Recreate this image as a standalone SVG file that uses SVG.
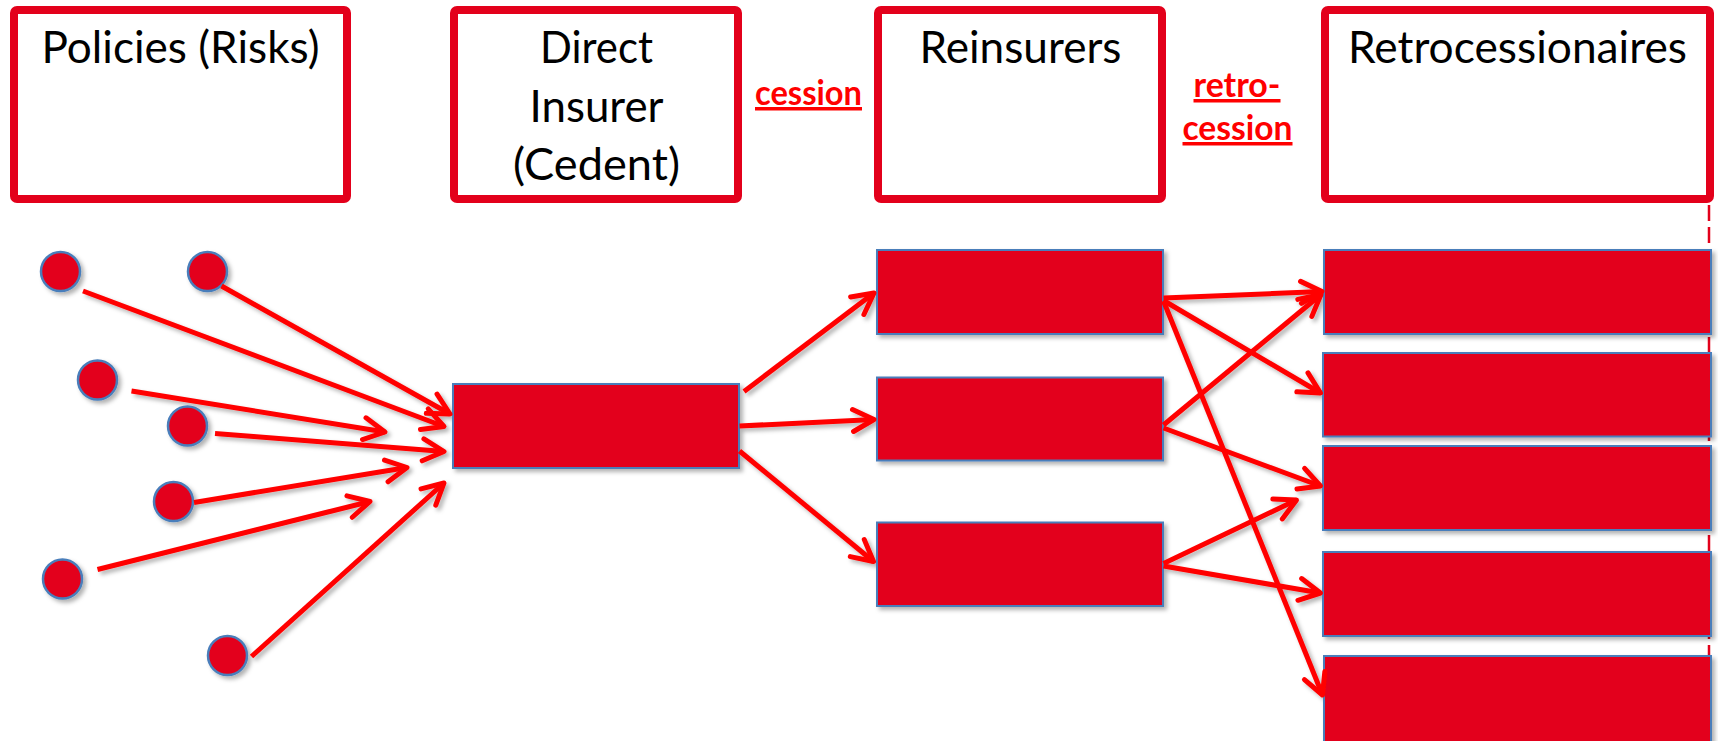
<svg xmlns="http://www.w3.org/2000/svg" width="1718" height="741" viewBox="0 0 1718 741">
<style>
.hdr{fill:#ffffff;stroke:#E3001B;stroke-width:8}
.ttl{font-family:Lato,"Liberation Sans",sans-serif;font-size:44px;fill:#000000;text-anchor:middle}
.lbl{font-family:Lato,"Liberation Sans",sans-serif;font-size:35px;font-weight:bold;fill:#FF0000;text-anchor:middle;text-decoration:underline}
.blk{fill:#E3001B;stroke:#4A7EBB;stroke-width:2}
.dot{fill:#E3001B;stroke:#4A7EBB;stroke-width:2.5}
.con line{stroke:#FF0000;stroke-width:5;fill:none;marker-end:url(#arr)}
</style>
<defs>
<filter id="sh" filterUnits="userSpaceOnUse" x="0" y="0" width="1718" height="741">
<feDropShadow dx="3" dy="3" stdDeviation="2" flood-color="#000000" flood-opacity="0.3"/>
</filter>
<marker id="arr" markerUnits="userSpaceOnUse" viewBox="-28 -16 34 32" markerWidth="34" markerHeight="32" refX="0" refY="0" orient="auto" overflow="visible">
<path d="M-21,-11 L0,0 L-21,11" fill="none" stroke="#FF0000" stroke-width="5" stroke-linecap="round" stroke-linejoin="round"/>
</marker>
</defs>
<rect width="1718" height="741" fill="#ffffff"/>

<line x1="1709" y1="205" x2="1709" y2="741" stroke="#E3001B" stroke-width="2.5" stroke-dasharray="16 6"/>

<g id="hdr-policies">
<rect class="hdr" x="14" y="10" width="333" height="189" rx="3"/>
<text class="ttl" x="180.5" y="63" textLength="278" lengthAdjust="spacingAndGlyphs">Policies (Risks)</text>
</g>
<g id="hdr-direct">
<rect class="hdr" x="454" y="10" width="284" height="189" rx="3"/>
<text class="ttl" x="596.5" y="63" textLength="113" lengthAdjust="spacingAndGlyphs">Direct</text>
<text class="ttl" x="596.5" y="122" textLength="134" lengthAdjust="spacingAndGlyphs">Insurer</text>
<text class="ttl" x="596.5" y="180" textLength="167" lengthAdjust="spacingAndGlyphs">(Cedent)</text>
</g>
<g id="hdr-reinsurers">
<rect class="hdr" x="878" y="10" width="284" height="189" rx="3"/>
<text class="ttl" x="1020.5" y="63" textLength="202" lengthAdjust="spacingAndGlyphs">Reinsurers</text>
</g>
<g id="hdr-retro">
<rect class="hdr" x="1325" y="10" width="385" height="189" rx="3"/>
<text class="ttl" x="1517.5" y="63" textLength="339" lengthAdjust="spacingAndGlyphs">Retrocessionaires</text>
</g>
<g id="lbl-cession">
<text class="lbl" x="808.5" y="105" textLength="107" lengthAdjust="spacingAndGlyphs">cession</text>
</g>
<g id="lbl-retrocession">
<text class="lbl" x="1237" y="97" textLength="87" lengthAdjust="spacingAndGlyphs">retro-</text>
<text class="lbl" x="1237.5" y="140" textLength="110" lengthAdjust="spacingAndGlyphs">cession</text>
</g>

<g filter="url(#sh)">
<g id="p1"><circle class="dot" cx="60.5" cy="271.5" r="19.5"/></g>
<g id="p2"><circle class="dot" cx="207.5" cy="271.5" r="19.5"/></g>
<g id="p3"><circle class="dot" cx="97.5" cy="380" r="19.5"/></g>
<g id="p4"><circle class="dot" cx="187.5" cy="426" r="19.5"/></g>
<g id="p5"><circle class="dot" cx="173.5" cy="501.5" r="19.5"/></g>
<g id="p6"><circle class="dot" cx="62.5" cy="579" r="19.5"/></g>
<g id="p7"><circle class="dot" cx="227.5" cy="655.5" r="19.5"/></g>

<g id="direct"><rect class="blk" x="453" y="384" width="286" height="84"/></g>

<g id="re1"><rect class="blk" x="877" y="250" width="286" height="84"/></g>
<g id="re2"><rect class="blk" x="877" y="377.5" width="286" height="83"/></g>
<g id="re3"><rect class="blk" x="877" y="522.5" width="286" height="83.5"/></g>

<g id="rt1"><rect class="blk" x="1324" y="250" width="387" height="84"/></g>
<g id="rt2"><rect class="blk" x="1323" y="353" width="388" height="83.5"/></g>
<g id="rt3"><rect class="blk" x="1323" y="446" width="388" height="84"/></g>
<g id="rt4"><rect class="blk" x="1323" y="552" width="388" height="84"/></g>
<g id="rt5"><rect class="blk" x="1324" y="656" width="387" height="95"/></g>

<g id="connectors" class="con">
<line x1="83" y1="291" x2="444" y2="426.5"/>
<line x1="221.5" y1="286" x2="450" y2="414"/>
<line x1="131.5" y1="391" x2="385" y2="432"/>
<line x1="215" y1="433.5" x2="444" y2="451.5"/>
<line x1="194" y1="502.5" x2="407" y2="467.5"/>
<line x1="97.5" y1="569.5" x2="370" y2="501.5"/>
<line x1="251.5" y1="656.5" x2="444" y2="483"/>

<line x1="744" y1="391.5" x2="874" y2="293"/>
<line x1="739.5" y1="426" x2="874" y2="419.5"/>
<line x1="739.5" y1="451" x2="873.5" y2="561.5"/>

<line x1="1163.5" y1="298" x2="1322" y2="291.5"/>
<line x1="1163.5" y1="300.5" x2="1320.5" y2="393"/>
<line x1="1163.5" y1="301" x2="1322.5" y2="695"/>
<line x1="1163.5" y1="425" x2="1321" y2="294.5"/>
<line x1="1163.5" y1="428" x2="1320.5" y2="486"/>
<line x1="1163.5" y1="563.5" x2="1296.5" y2="500"/>
<line x1="1163.5" y1="566" x2="1320.5" y2="593"/>
</g>
</g>
</svg>
